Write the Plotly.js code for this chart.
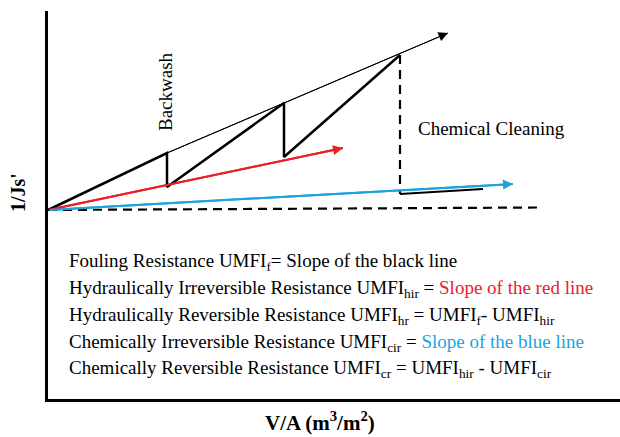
<!DOCTYPE html>
<html>
<head>
<meta charset="utf-8">
<script src="https://cdn.plot.ly/plotly-3.0.1.min.js"></script>
<style>html,body{margin:0;padding:0;background:#fff;}#chart{width:620px;height:437px;}</style>
</head>
<body>
<div id="chart"></div>
<script>
// Schematic values (V/A on x, 1/Js' on y, arbitrary units)
const filtrationX = [0, 2.38, 2.38, 4.72, 4.72, 7.04];
const filtrationY = [3.78, 4.92, 4.24, 5.92, 4.84, 6.88];
const foulingX = [2.38, 8.0];
const foulingY = [4.92, 7.32];
const hydraulicX = [0, 5.9];
const hydraulicY = [3.78, 5.02];
const chemicalX = [0, 9.3];
const chemicalY = [3.78, 4.30];
const baselineX = [0, 9.84];
const baselineY = [3.78, 3.83];
const cleaningX = [7.04, 7.04];
const cleaningY = [6.88, 4.10];
const afterCleanX = [7.04, 8.7];
const afterCleanY = [4.10, 4.20];

const RED = '#e8202a';
const BLUE = '#1ca3dd';

const eqLines = [
  'Fouling Resistance UMFI<sub>f</sub>= Slope of the black line',
  'Hydraulically Irreversible Resistance UMFI<sub>hir</sub> = <span style="color:' + RED + '">Slope of the red line</span>',
  'Hydraulically Reversible Resistance UMFI<sub>hr</sub> = UMFI<sub>f</sub>- UMFI<sub>hir</sub>',
  'Chemically Irreversible Resistance UMFI<sub>cir</sub> = <span style="color:' + BLUE + '">Slope of the blue line</span>',
  'Chemically Reversible Resistance UMFI<sub>cr</sub> = UMFI<sub>hir</sub> - UMFI<sub>cir</sub>'
];
const eqY = [2.74, 2.20, 1.66, 1.13, 0.60];

const serif = 'Liberation Serif';

const traces = [
  {x: baselineX, y: baselineY, mode: 'lines', line: {color: '#000', width: 2.2, dash: '9px,6px'}, hoverinfo: 'skip'},
  {x: cleaningX, y: cleaningY, mode: 'lines', line: {color: '#000', width: 2.2, dash: '9px,6px'}, hoverinfo: 'skip'},
  {x: afterCleanX, y: afterCleanY, mode: 'lines', line: {color: '#000', width: 2}, hoverinfo: 'skip'},
  {x: chemicalX, y: chemicalY, mode: 'lines', line: {color: BLUE, width: 2}, hoverinfo: 'skip'},
  {x: hydraulicX, y: hydraulicY, mode: 'lines', line: {color: RED, width: 2}, hoverinfo: 'skip'},
  {x: foulingX, y: foulingY, mode: 'lines', line: {color: '#000', width: 1}, hoverinfo: 'skip'},
  {x: filtrationX, y: filtrationY, mode: 'lines', line: {color: '#000', width: 2.5}, hoverinfo: 'skip'}
];

function arrow(xs, ys, color, w, size) {
  const n = xs.length - 1;
  return {x: xs[n], y: ys[n], ax: xs[n - 1], ay: ys[n - 1], xref: 'x', yref: 'y', axref: 'x', ayref: 'y',
    text: '', showarrow: true, arrowhead: 2, arrowsize: size, arrowwidth: w, arrowcolor: color, standoff: 0, startstandoff: 0};
}

// pixel -> paper helpers for titles placed outside the plot area
const px2paperX = p => (p - 48) / 572;
const px2paperY = p => (399 - p) / 388;

const annotations = [
  arrow(foulingX, foulingY, '#000', 1, 1.9),
  arrow(hydraulicX, hydraulicY, RED, 2, 1.0),
  arrow(chemicalX, chemicalY, BLUE, 2, 1.0),
  {x: 2.34, y: 6.14, xref: 'x', yref: 'y', text: 'Backwash', textangle: -90, showarrow: false,
    xanchor: 'center', yanchor: 'middle', font: {family: serif, size: 19, color: '#000'}},
  {x: 7.36, y: 5.42, xref: 'x', yref: 'y', text: 'Chemical Cleaning', xanchor: 'left', yanchor: 'middle', showarrow: false,
    font: {family: serif, size: 19, color: '#000'}},
  {x: px2paperX(18), y: px2paperY(193), xref: 'paper', yref: 'paper', text: '<b>1/Js\'</b>', textangle: -90,
    xanchor: 'center', yanchor: 'middle', showarrow: false, font: {family: serif, size: 20, color: '#000'}},
  {x: px2paperX(320), y: px2paperY(421), xref: 'paper', yref: 'paper', text: '<b>V/A (m<sup>3</sup>/m<sup>2</sup>)</b>',
    xanchor: 'center', yanchor: 'middle', showarrow: false, font: {family: serif, size: 21, color: '#000'}}
];

eqLines.forEach((t, i) => {
  annotations.push({x: 0.38, y: eqY[i], xref: 'x', yref: 'y', text: t, xanchor: 'left', yanchor: 'middle',
    showarrow: false, font: {family: serif, size: 19, color: '#000'}});
});

const layout = {
  width: 620, height: 437,
  margin: {l: 48, r: 0, t: 11, b: 38, pad: 0},
  paper_bgcolor: '#fff', plot_bgcolor: '#fff',
  showlegend: false,
  font: {family: serif},
  xaxis: {range: [0, 11.44], showline: true, linewidth: 3, linecolor: '#000', showgrid: false, zeroline: false,
    showticklabels: false, ticks: '', fixedrange: true},
  yaxis: {range: [0, 7.76], showline: true, linewidth: 3, linecolor: '#000', showgrid: false, zeroline: false,
    showticklabels: false, ticks: '', fixedrange: true},
  annotations: annotations
};

Plotly.newPlot('chart', traces, layout, {staticPlot: true, displayModeBar: false});
</script>
</body>
</html>
